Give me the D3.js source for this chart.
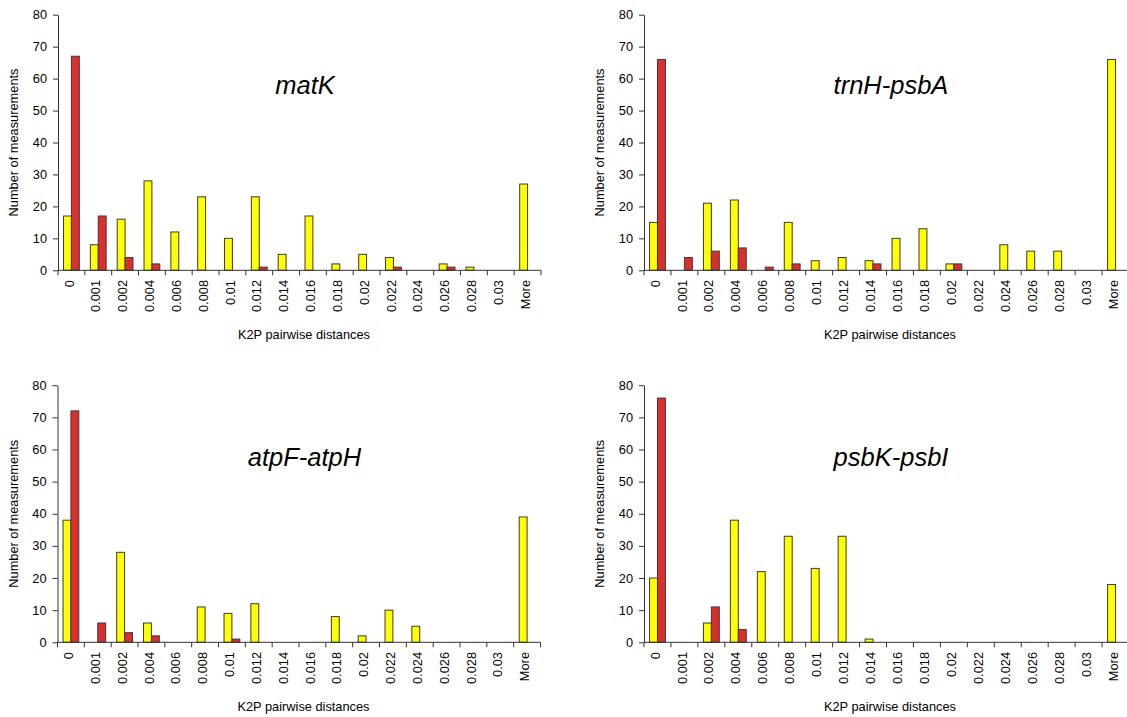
<!DOCTYPE html>
<html>
<head>
<meta charset="utf-8">
<script src="https://cdn.jsdelivr.net/npm/d3@7"></script>
<style>
  html, body { margin: 0; padding: 0; background: #fff; }
  svg { display: block; }
  text { font-family: "Liberation Sans", Arial, sans-serif; fill: #000; }
</style>
</head>
<body>
<svg id="chart" width="1127" height="717"></svg>
<script>
// ---------- data ----------
const categories = ["0","0.001","0.002","0.004","0.006","0.008","0.01","0.012","0.014","0.016","0.018","0.02","0.022","0.024","0.026","0.028","0.03","More"];
const yTicks = [0, 10, 20, 30, 40, 50, 60, 70, 80];
const panelTitles = ["matK", "trnH-psbA", "atpF-atpH", "psbK-psbI"];
const yAxisTitle = "Number of measurements";
const xAxisTitle = "K2P pairwise distances";

const matKYellow = [17, 8, 16, 28, 12, 23, 10, 23, 5, 17, 2, 5, 4, 0, 2, 1, 0, 27];
const matKRed    = [67, 17, 4, 2, 0, 0, 0, 1, 0, 0, 0, 0, 1, 0, 1, 0, 0, 0];
const trnHYellow = [15, 0, 21, 22, 0, 15, 3, 4, 3, 10, 13, 2, 0, 8, 6, 6, 0, 66];
const trnHRed    = [66, 4, 6, 7, 1, 2, 0, 0, 2, 0, 0, 2, 0, 0, 0, 0, 0, 0];
const atpFYellow = [38, 0, 28, 6, 0, 11, 9, 12, 0, 0, 8, 2, 10, 5, 0, 0, 0, 39];
const atpFRed    = [72, 6, 3, 2, 0, 0, 1, 0, 0, 0, 0, 0, 0, 0, 0, 0, 0, 0];
const psbKYellow = [20, 0, 6, 38, 22, 33, 23, 33, 1, 0, 0, 0, 0, 0, 0, 0, 0, 18];
const psbKRed    = [76, 0, 11, 4, 0, 0, 0, 0, 0, 0, 0, 0, 0, 0, 0, 0, 0, 0];

const seriesKeys = ["yellow", "red"];
const colors = { yellow: "#FFFF00", red: "#DD2E2E" };

// ---------- layout ----------
const panels = [
  { title: panelTitles[0], yellow: matKYellow, red: matKRed, x0: 58,   w: 483, yTop: 14.7,  yBase: 270.3 },
  { title: panelTitles[1], yellow: trnHYellow, red: trnHRed, x0: 644,  w: 485, yTop: 14.7,  yBase: 270.3 },
  { title: panelTitles[2], yellow: atpFYellow, red: atpFRed, x0: 57.5, w: 483, yTop: 385.2, yBase: 642.3 },
  { title: panelTitles[3], yellow: psbKYellow, red: psbKRed, x0: 644,  w: 485, yTop: 385.2, yBase: 642.3 }
];
const fontSize = 12.8;
const axisColor = "#333";

const svg = d3.select("#chart");

panels.forEach(p => {
  const g = svg.append("g");
  const x = d3.scaleBand().domain(categories).range([p.x0, p.x0 + p.w]).paddingInner(0).paddingOuter(0);
  const xs = d3.scaleBand().domain(seriesKeys).range([0, x.bandwidth()]).paddingInner(0).paddingOuter(0.7);
  const y = d3.scaleLinear().domain([0, 80]).range([p.yBase, p.yTop]);

  // bars
  const rows = [];
  categories.forEach((c, i) => {
    seriesKeys.forEach(k => {
      const v = p[k][i];
      if (v > 0) rows.push({ c, k, v });
    });
  });
  g.append("g").selectAll("rect").data(rows).join("rect")
    .attr("x", d => x(d.c) + xs(d.k))
    .attr("y", d => y(d.v))
    .attr("width", xs.bandwidth())
    .attr("height", d => y(0) - y(d.v))
    .attr("fill", d => colors[d.k])
    .attr("stroke", "#3a3a3a")
    .attr("stroke-width", 1);

  // y axis
  const yAxis = g.append("g")
    .attr("transform", `translate(${p.x0},0)`)
    .call(d3.axisLeft(y).tickValues(yTicks).tickSize(5).tickSizeOuter(0).tickPadding(6));
  yAxis.select(".domain").attr("stroke", axisColor);
  yAxis.selectAll(".tick line").attr("stroke", axisColor);
  yAxis.selectAll(".tick text")
    .style("font-family", "'Liberation Sans', Arial, sans-serif")
    .style("font-size", fontSize + "px")
    .attr("fill", "#000");

  // x axis line + boundary ticks
  const xg = g.append("g");
  xg.append("line")
    .attr("x1", p.x0).attr("x2", p.x0 + p.w)
    .attr("y1", y(0)).attr("y2", y(0))
    .attr("stroke", axisColor);
  const bounds = categories.map(c => x(c)).concat([x(categories[categories.length - 1]) + x.bandwidth()]);
  xg.selectAll("line.tk").data(bounds).join("line")
    .attr("class", "tk")
    .attr("x1", d => d).attr("x2", d => d)
    .attr("y1", y(0)).attr("y2", y(0) + 5)
    .attr("stroke", axisColor);
  xg.selectAll("text").data(categories).join("text")
    .attr("transform", c => `translate(${x(c) + x.bandwidth() / 2},${y(0) + 9.7}) rotate(-90)`)
    .attr("text-anchor", "end")
    .attr("dy", "2.1")
    .style("font-size", fontSize + "px")
    .text(c => c);

  // axis titles
  g.append("text")
    .attr("transform", `translate(${p.x0 - 40},${(p.yTop + p.yBase) / 2}) rotate(-90)`)
    .attr("text-anchor", "middle")
    .style("font-size", fontSize + "px")
    .text(yAxisTitle);
  g.append("text")
    .attr("x", p.x0 + 246)
    .attr("y", p.yBase + 68.5)
    .attr("text-anchor", "middle")
    .style("font-size", fontSize + "px")
    .text(xAxisTitle);

  // panel title
  g.append("text")
    .attr("x", p.x0 + 247)
    .attr("y", p.yBase - 176)
    .attr("text-anchor", "middle")
    .style("font-size", "25.5px")
    .style("font-style", "italic")
    .text(p.title);
});
</script>
</body>
</html>
